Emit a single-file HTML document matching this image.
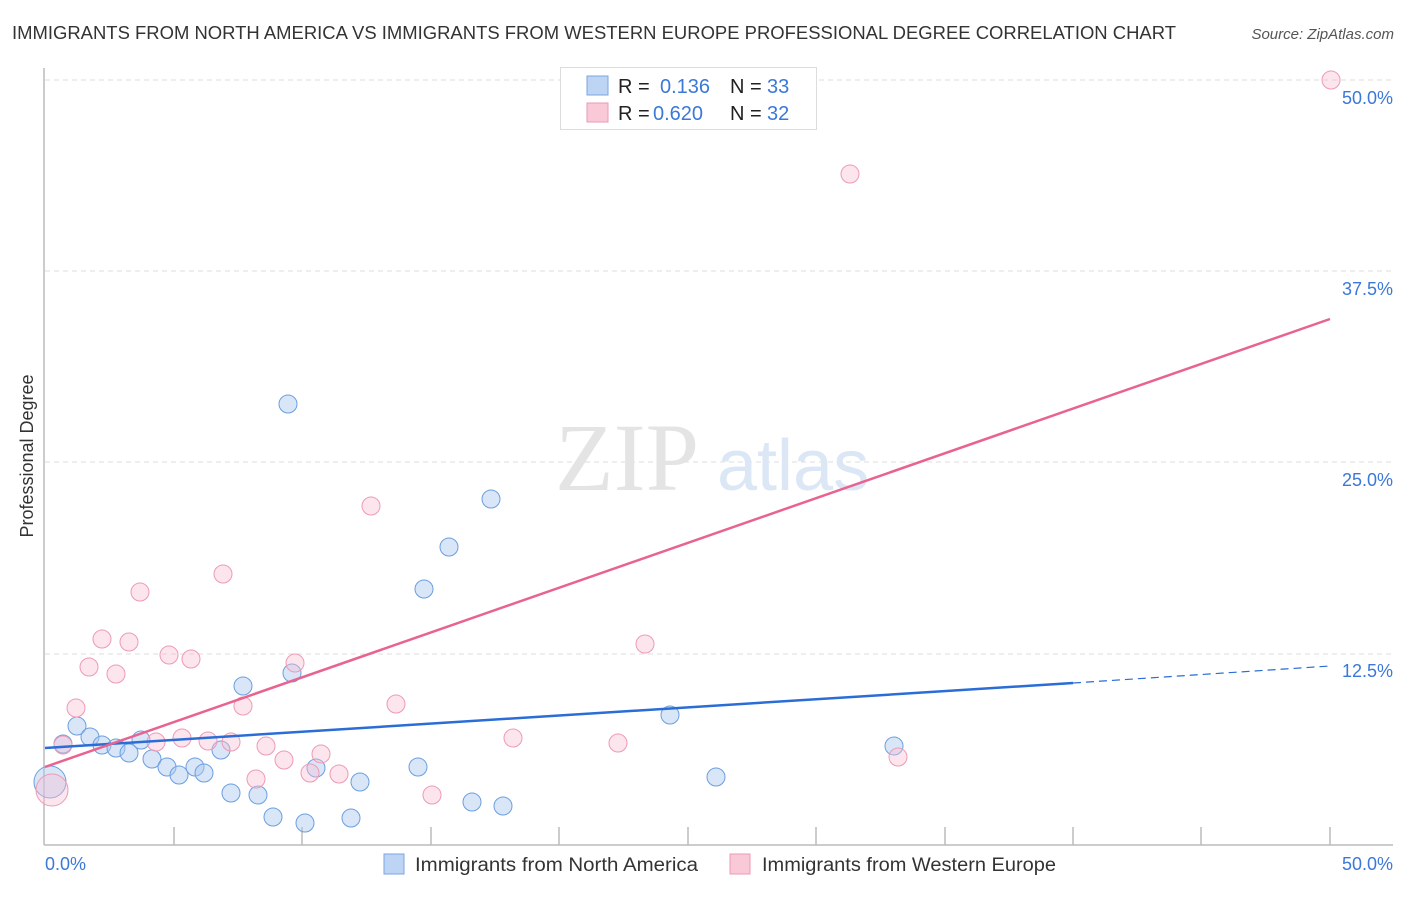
<!DOCTYPE html>
<html><head><meta charset="utf-8"><style>
body{margin:0;background:#fff;}
svg text{font-family:"Liberation Sans",sans-serif;}
</style></head><body>
<svg width="1406" height="892" viewBox="0 0 1406 892" xmlns="http://www.w3.org/2000/svg">
<text x="12" y="39" font-size="18" fill="#333" textLength="1164" lengthAdjust="spacingAndGlyphs">IMMIGRANTS FROM NORTH AMERICA VS IMMIGRANTS FROM WESTERN EUROPE PROFESSIONAL DEGREE CORRELATION CHART</text>
<text x="1394" y="39" font-size="15" fill="#555" font-style="italic" text-anchor="end">Source: ZipAtlas.com</text>
<g stroke="#ddd" stroke-dasharray="5,4" stroke-width="1">
<line x1="45" y1="80" x2="1393" y2="80"/><line x1="45" y1="271" x2="1393" y2="271"/>
<line x1="45" y1="462" x2="1393" y2="462"/><line x1="45" y1="654" x2="1393" y2="654"/>
</g>
<text x="555" y="490" font-size="96" fill="#e4e4e4" style="font-family:'Liberation Serif',serif">ZIP</text>
<text x="717" y="490" font-size="72" fill="#dce7f6">atlas</text>
<g stroke="#bbb" stroke-width="1.5">
<line x1="44" y1="68" x2="44" y2="845"/><line x1="44" y1="845" x2="1393" y2="845"/>
<line x1="174" y1="827" x2="174" y2="845"/><line x1="302" y1="827" x2="302" y2="845"/><line x1="431" y1="827" x2="431" y2="845"/><line x1="559" y1="827" x2="559" y2="845"/><line x1="688" y1="827" x2="688" y2="845"/><line x1="816" y1="827" x2="816" y2="845"/><line x1="945" y1="827" x2="945" y2="845"/><line x1="1073" y1="827" x2="1073" y2="845"/><line x1="1201" y1="827" x2="1201" y2="845"/><line x1="1330" y1="827" x2="1330" y2="845"/>
</g>
<g font-size="18" fill="#3b78d8" text-anchor="end">
<text x="1393" y="104">50.0%</text><text x="1393" y="295">37.5%</text><text x="1393" y="486">25.0%</text><text x="1393" y="677">12.5%</text>
<text x="1393" y="870">50.0%</text>
</g>
<text x="45" y="870" font-size="18" fill="#3b78d8">0.0%</text>
<text transform="translate(33,456) rotate(-90)" font-size="18" fill="#333" text-anchor="middle">Professional Degree</text>
<g fill="rgba(170,200,240,0.45)" stroke="#6a9fe0" stroke-width="1">
<circle cx="50" cy="782" r="16"/><circle cx="63" cy="744" r="9"/><circle cx="77" cy="726" r="9"/><circle cx="90" cy="737" r="9"/><circle cx="102" cy="745" r="9"/><circle cx="116" cy="748" r="9"/><circle cx="129" cy="753" r="9"/><circle cx="141" cy="740" r="9"/><circle cx="152" cy="759" r="9"/><circle cx="167" cy="767" r="9"/><circle cx="179" cy="775" r="9"/><circle cx="195" cy="767" r="9"/><circle cx="204" cy="773" r="9"/><circle cx="221" cy="750" r="9"/><circle cx="231" cy="793" r="9"/><circle cx="243" cy="686" r="9"/><circle cx="258" cy="795" r="9"/><circle cx="273" cy="817" r="9"/><circle cx="288" cy="404" r="9"/><circle cx="292" cy="673" r="9"/><circle cx="305" cy="823" r="9"/><circle cx="316" cy="768" r="9"/><circle cx="351" cy="818" r="9"/><circle cx="360" cy="782" r="9"/><circle cx="418" cy="767" r="9"/><circle cx="424" cy="589" r="9"/><circle cx="449" cy="547" r="9"/><circle cx="472" cy="802" r="9"/><circle cx="491" cy="499" r="9"/><circle cx="503" cy="806" r="9"/><circle cx="670" cy="715" r="9"/><circle cx="716" cy="777" r="9"/><circle cx="894" cy="746" r="9"/>
</g>
<g fill="rgba(248,190,210,0.4)" stroke="#ee9ab5" stroke-width="1">
<circle cx="52" cy="790" r="16"/><circle cx="63" cy="745" r="9"/><circle cx="76" cy="708" r="9"/><circle cx="89" cy="667" r="9"/><circle cx="102" cy="639" r="9"/><circle cx="116" cy="674" r="9"/><circle cx="129" cy="642" r="9"/><circle cx="140" cy="592" r="9"/><circle cx="156" cy="742" r="9"/><circle cx="169" cy="655" r="9"/><circle cx="182" cy="738" r="9"/><circle cx="191" cy="659" r="9"/><circle cx="208" cy="741" r="9"/><circle cx="223" cy="574" r="9"/><circle cx="231" cy="742" r="9"/><circle cx="243" cy="706" r="9"/><circle cx="256" cy="779" r="9"/><circle cx="266" cy="746" r="9"/><circle cx="284" cy="760" r="9"/><circle cx="295" cy="663" r="9"/><circle cx="310" cy="773" r="9"/><circle cx="321" cy="754" r="9"/><circle cx="339" cy="774" r="9"/><circle cx="371" cy="506" r="9"/><circle cx="396" cy="704" r="9"/><circle cx="432" cy="795" r="9"/><circle cx="513" cy="738" r="9"/><circle cx="618" cy="743" r="9"/><circle cx="645" cy="644" r="9"/><circle cx="850" cy="174" r="9"/><circle cx="898" cy="757" r="9"/><circle cx="1331" cy="80" r="9"/>
</g>
<line x1="45" y1="748" x2="1073" y2="683" stroke="#2a6dd6" stroke-width="2.5"/>
<line x1="1073" y1="683" x2="1330" y2="666" stroke="#2a6dd6" stroke-width="1.2" stroke-dasharray="8,5"/>
<line x1="45" y1="767" x2="1330" y2="319" stroke="#e8638f" stroke-width="2.5"/>
<rect x="560.5" y="67.5" width="256" height="62" fill="#fff" stroke="#ddd"/>
<rect x="587" y="76" width="21" height="19" fill="#bdd4f5" stroke="#7aa6e2"/>
<rect x="587" y="103" width="21" height="19" fill="#f9c9d8" stroke="#eb9bb5"/>
<g font-size="20" fill="#222"><text x="618" y="93">R =</text><text x="618" y="120">R =</text><text x="730" y="93">N =</text><text x="730" y="120">N =</text></g>
<g font-size="20" fill="#3b78d8"><text x="660" y="93">0.136</text><text x="653" y="120">0.620</text><text x="767" y="93">33</text><text x="767" y="120">32</text></g>
<rect x="384" y="854" width="20" height="20" fill="#bdd4f5" stroke="#7aa6e2"/>
<text x="415" y="871" font-size="19" fill="#333" textLength="283" lengthAdjust="spacingAndGlyphs">Immigrants from North America</text>
<rect x="730" y="854" width="20" height="20" fill="#f9c9d8" stroke="#eb9bb5"/>
<text x="762" y="871" font-size="19" fill="#333" textLength="294" lengthAdjust="spacingAndGlyphs">Immigrants from Western Europe</text>
</svg>
</body></html>
